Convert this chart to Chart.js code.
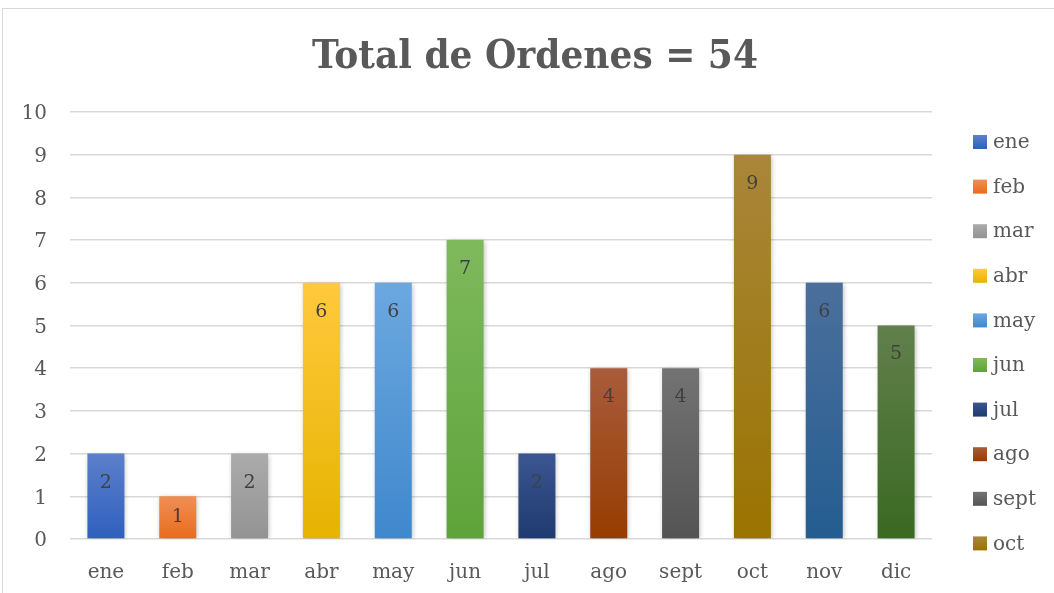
<!DOCTYPE html>
<html>
<head>
<meta charset="utf-8">
<script src="https://cdn.jsdelivr.net/npm/chart.js@4"></script>
<style>
    body { margin: 0; background: #fff; overflow: hidden; }
    #frame {
        position: absolute; left: 2px; top: 8px;
        width: 1100px; height: 640px;
        border: 1.5px solid #d9d9d9;
    }
    #chart { position: absolute; left: 0; top: 0; }
</style>
</head>
<body>
<div id="frame"></div>
<canvas id="chart" width="1054" height="593"></canvas>
<script>
// ordenes por mes
const months = ['ene', 'feb', 'mar', 'abr', 'may', 'jun', 'jul', 'ago', 'sept', 'oct', 'nov', 'dic'];
const orders = [2, 1, 2, 6, 6, 7, 2, 4, 4, 9, 6, 5];
const yTicks = [0, 1, 2, 3, 4, 5, 6, 7, 8, 9, 10];

// colores de cada barra (arriba claro, abajo oscuro)
const topColors = ['#5b80cc', '#f18e55', '#ababab', '#ffc93c', '#6ca8e0', '#7fb95c',
    '#3b5691', '#a95c3b', '#737373', '#a9863a', '#4b6f9c', '#61804c'];
const bottomColors = ['#2f5fbd', '#e86c1d', '#939393', '#e6b300', '#3f88cc', '#5ea33a',
    '#1f3a6f', '#963c00', '#545454', '#9a7300', '#245d91', '#3a6921'];

const textColor = '#595959';
const serif = "'DejaVu Serif', 'Liberation Serif', serif";
const total = orders.reduce((a, b) => a + b, 0);

const barFill = function (ctx) {
    const chart = ctx.chart;
    const y = chart.scales.y;
    const i = ctx.dataIndex;
    if (!y || i === undefined) return topColors[0];
    const top = y.getPixelForValue(orders[i]);
    const bottom = y.getPixelForValue(0);
    if (!isFinite(top) || !isFinite(bottom)) return topColors[i];
    const grad = chart.ctx.createLinearGradient(0, top, 0, bottom);
    grad.addColorStop(0, topColors[i]);
    grad.addColorStop(1, bottomColors[i]);
    return grad;
};

const titlePlugin = {
    id: 'titulo',
    afterDraw(chart) {
        const c = chart.ctx;
        c.save();
        c.font = "bold 40px 'DejaVu Serif Condensed', 'DejaVu Serif', serif";
        c.fillStyle = textColor;
        c.textAlign = 'center';
        c.textBaseline = 'middle';
        c.fillText('Total de Ordenes = ' + total, 535, 58);
        c.restore();
    }
};

const barShadow = {
    id: 'sombra',
    beforeDatasetsDraw(chart) {
        const c = chart.ctx;
        c.save();
        c.shadowColor = 'rgba(0, 0, 0, 0.28)';
        c.shadowBlur = 5;
        c.shadowOffsetX = 1;
        c.shadowOffsetY = 1;
    },
    afterDatasetsDraw(chart) {
        chart.ctx.restore();
    }
};

const valueLabels = {
    id: 'etiquetas',
    afterDatasetsDraw(chart) {
        const c = chart.ctx;
        const meta = chart.getDatasetMeta(0);
        c.save();
        c.font = '19px ' + serif;
        c.fillStyle = '#404040';
        c.textAlign = 'center';
        c.textBaseline = 'middle';
        meta.data.forEach((bar, i) => {
            const ly = Math.min(bar.y + 29, (bar.y + bar.base) / 2);
            c.fillText(String(orders[i]), bar.x, ly);
        });
        c.restore();
    }
};

// leyenda a la derecha, solo las entradas que caben
const legendPlugin = {
    id: 'leyenda',
    afterDraw(chart) {
        const c = chart.ctx;
        const x0 = 973;
        const y0 = 142;
        const step = 44.6;
        c.save();
        c.font = '20px ' + serif;
        c.textBaseline = 'middle';
        months.forEach((m, i) => {
            const cy = y0 + i * step;
            if (cy > 560) return;
            const g = c.createLinearGradient(0, cy - 7, 0, cy + 7);
            g.addColorStop(0, topColors[i]);
            g.addColorStop(1, bottomColors[i]);
            c.fillStyle = g;
            c.fillRect(x0, cy - 7, 14, 14);
            c.fillStyle = textColor;
            c.fillText(m, x0 + 20, cy + 1);
        });
        c.restore();
    }
};

new Chart(document.getElementById('chart'), {
    type: 'bar',
    data: {
        labels: months,
        datasets: [{
            label: 'Ordenes',
            data: orders,
            backgroundColor: barFill,
            borderWidth: 0,
            categoryPercentage: 1,
            barPercentage: 0.515
        }]
    },
    options: {
        responsive: false,
        animation: false,
        devicePixelRatio: 1,
        layout: { padding: { top: 112, right: 122, left: 0, bottom: 0 } },
        plugins: {
            legend: { display: false },
            title: { display: false },
            tooltip: { enabled: false }
        },
        scales: {
            x: {
                grid: { display: false },
                border: { display: false },
                ticks: { color: textColor, font: { family: serif, size: 20 }, padding: 14 },
                afterFit(s) { s.height = 54; }
            },
            y: {
                min: 0,
                max: 10,
                afterBuildTicks(s) { s.ticks = yTicks.map(v => ({ value: v })); },
                grid: { color: '#d9d9d9', lineWidth: 1.5, drawTicks: false },
                border: { display: false },
                ticks: { color: textColor, font: { family: serif, size: 20 }, padding: 23, labelOffset: 2 },
                afterFit(s) { s.width = 70; }
            }
        }
    },
    plugins: [barShadow, valueLabels, titlePlugin, legendPlugin]
});
</script>
</body>
</html>
